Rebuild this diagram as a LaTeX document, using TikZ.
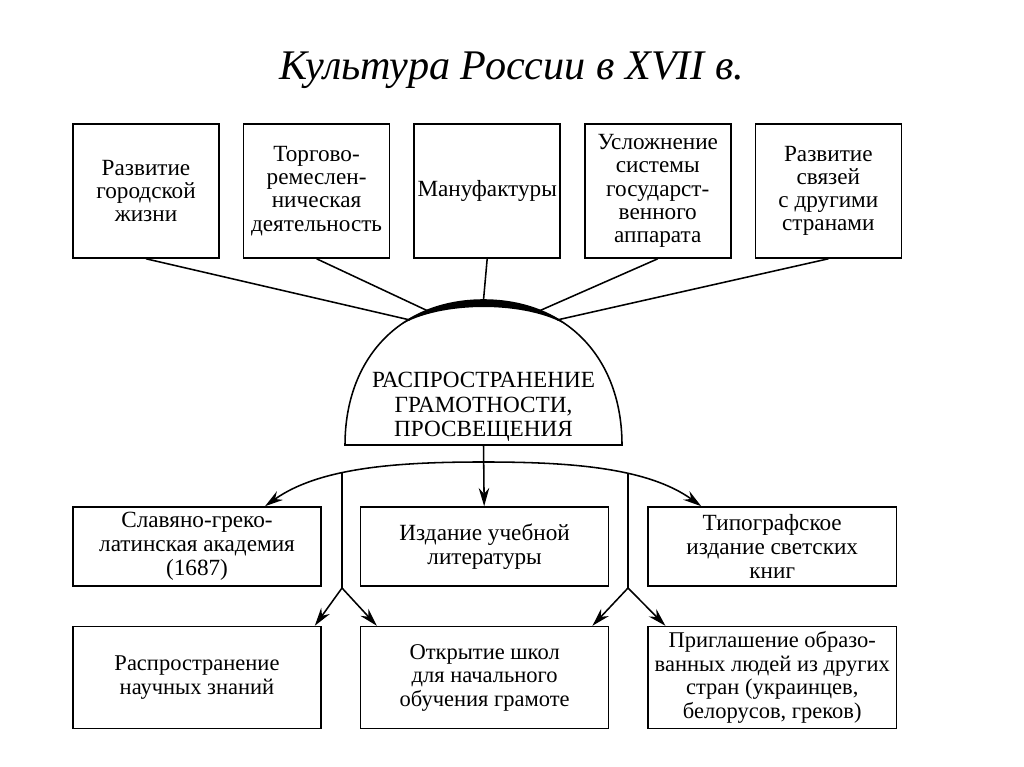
\documentclass[tikz,border=0pt]{standalone}
\usepackage{fontspec}
\setmainfont{Liberation Serif}
\usetikzlibrary{positioning, arrows.meta}
\tikzstyle{topbox} = [rectangle, minimum width=3.65cm, minimum height=3.35cm, inner sep=1.5pt, text centered, align=center, draw=black, line width=1.1pt, font=\fontsize{16.5}{16.5}\selectfont]
\tikzstyle{midbox} = [rectangle, minimum width=6.2cm, minimum height=1.975cm, inner sep=1.5pt, text centered, align=center, draw=black, line width=1.1pt, font=\fontsize{16.5}{17}\selectfont]
\tikzstyle{lowbox} = [midbox, minimum height=2.55cm, font=\fontsize{16}{16.7}\selectfont]
\tikzstyle{line} = [line width=1.1pt]
\tikzstyle{edge} = [line width=1.1pt, -{Stealth[length=13pt, width=7.5pt]}]

\begin{document}
\begin{tikzpicture}[x=0.025cm, y=0.025cm, node distance=0.575cm]
\useasboundingbox (0,0) rectangle (1024,767);

\node (0) at (512,697) {\fontsize{30}{36}\selectfont\itshape Культура России в XVII в.};

% top row
\node (1) [topbox] at (146,576) {Развитие\\городской\\жизни};
\node (2) [topbox, right=of 1] {Торгово-\\ремеслен-\\ническая\\деятельность};
\node (3) [topbox, right=of 2] {Мануфактуры};
\node (4) [topbox, right=of 3] {Усложнение\\системы\\государст-\\венного\\аппарата};
\node (5) [topbox, right=of 4] {Развитие\\связей\\с другими\\странами};

% dome
\draw [line] (345,322) .. controls (345,409) and (400.5,467) .. (483.5,467) .. controls (566.5,467) and (622,409) .. (622,322) -- cycle;
\begin{scope}
\clip (399,441) .. controls (440,466.3) and (527,466.3) .. (568,441) -- (568,480) -- (399,480) -- cycle;
\fill (345,322) .. controls (345,409) and (400.5,467) .. (483.5,467) .. controls (566.5,467) and (622,409) .. (622,322) -- cycle;
\end{scope}
\node (6) [align=center, font=\fontsize{16.5}{17.5}\selectfont] at (483.5,360) {РАСПРОСТРАНЕНИЕ\\ГРАМОТНОСТИ,\\ПРОСВЕЩЕНИЯ};

\coordinate (d1) at (410,447);
\coordinate (d2) at (428,456);
\coordinate (d3) at (483.5,467);
\coordinate (d4) at (539,456);
\coordinate (d5) at (557,447);
\draw [line] (1.south) -- (d1);
\draw [line] (2.south) -- (d2);
\draw [line] (3.south) -- (d3);
\draw [line] (4.south) -- (d4);
\draw [line] (5.south) -- (d5);

% middle row
\node (7) [midbox] at (197,220.5) {Славяно-греко-\\латинская академия\\(1687)};
\node (8) [midbox, right=0.95cm of 7] {Издание учебной\\литературы};
\node (9) [midbox, right=0.95cm of 8] {Типографское\\издание светских\\книг};

% bottom row
\node (10) [lowbox, below=0.975cm of 7] {Распространение\\научных знаний};
\node (11) [lowbox, below=0.975cm of 8] {Открытие школ\\для начального\\обучения грамоте};
\node (12) [lowbox, below=0.975cm of 9] {Приглашение образо-\\ванных людей из других\\стран (украинцев,\\белорусов, греков)};

\coordinate (base) at (483.5,322);
\coordinate (apex) at (483.5,305);
\coordinate (j1) at (342,294);
\coordinate (j2) at (628,294);
\coordinate (s1) at (342,179);
\coordinate (s2) at (628,179);

\draw [edge] (base) -- (8);
\draw [edge] (apex) .. controls (400,305) and (320,300) .. ([xshift=1.7cm]7.north);
\draw [edge] (apex) .. controls (567,305) and (647,300) .. ([xshift=-1.775cm]9.north);
\draw [line] (j1) -- (s1);
\draw [line] (j2) -- (s2);
\draw [edge] (s1) -- ([xshift=-0.175cm]10.north east);
\draw [edge] (s1) -- ([xshift=0.425cm]11.north west);
\draw [edge] (s2) -- ([xshift=-0.425cm]11.north east);
\draw [edge] (s2) -- ([xshift=0.45cm]12.north west);

\end{tikzpicture}
\end{document}
